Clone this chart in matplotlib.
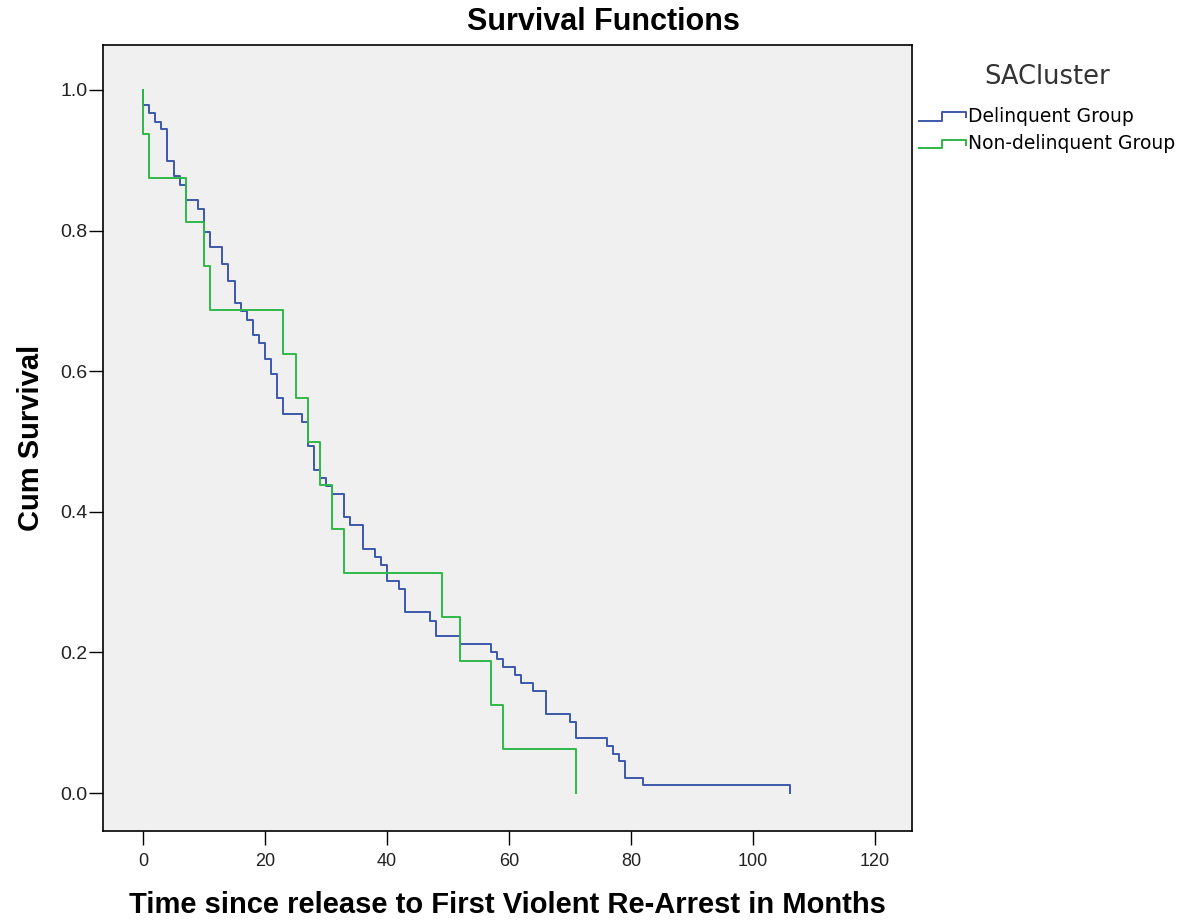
import matplotlib
matplotlib.use("Agg")
import matplotlib.pyplot as plt
from matplotlib.legend_handler import HandlerBase
from matplotlib.lines import Line2D

# Kaplan-Meier steps (time in months, cumulative survival)
delinquent_t = [0, 0, 1, 2, 3, 4, 5, 6, 7, 9, 10, 11, 13, 14, 15, 16, 17, 18, 19,
                20, 21, 22, 23, 26, 27, 28, 29, 30, 31, 33, 34, 36, 38, 39, 40,
                42, 43, 47, 48, 52, 57, 58, 59, 61, 62, 64, 66, 70, 71, 76, 77,
                78, 79, 82, 106]
delinquent_s = [1.0, 0.978, 0.967, 0.955, 0.944, 0.899, 0.877, 0.865, 0.843, 0.831,
                0.798, 0.776, 0.752, 0.729, 0.697, 0.685, 0.673, 0.652, 0.640,
                0.618, 0.596, 0.562, 0.539, 0.528, 0.494, 0.460, 0.448, 0.437,
                0.426, 0.392, 0.381, 0.347, 0.336, 0.324, 0.302, 0.290, 0.257,
                0.245, 0.224, 0.212, 0.201, 0.190, 0.179, 0.168, 0.156, 0.145,
                0.112, 0.101, 0.078, 0.067, 0.056, 0.045, 0.022, 0.011, 0.0]

nondelinquent_t = [0, 0, 1, 7, 10, 11, 23, 25, 27, 29, 31, 33, 49, 52, 57, 59, 71]
nondelinquent_s = [1.0, 0.9375, 0.875, 0.8125, 0.75, 0.6875, 0.625, 0.5625, 0.5,
                   0.4375, 0.375, 0.3125, 0.25, 0.1875, 0.125, 0.0625, 0.0]

group_labels = ["Delinquent Group", "Non-delinquent Group"]
group_colors = ["#3E58AC", "#2EB848"]

x_ticks = [0, 20, 40, 60, 80, 100, 120]
y_ticks = [0.0, 0.2, 0.4, 0.6, 0.8, 1.0]

ARIAL = ["Liberation Sans", "DejaVu Sans"]
WIDE = ["DejaVu Sans"]


class StepHandler(HandlerBase):
    """Legend key drawn as a small step, like SPSS does."""
    def create_artists(self, legend, orig_handle, xdescent, ydescent,
                       width, height, fontsize, trans):
        x0, x1 = -xdescent, -xdescent + width
        y_lo, y_hi = -ydescent + 0.1 * height, -ydescent + 0.75 * height
        xm = x0 + 0.5 * width
        line = Line2D([x0, xm, xm, x1, x1], [y_lo, y_lo, y_hi, y_hi, y_hi - 0.4 * height],
                      color=orig_handle.get_color(), lw=orig_handle.get_linewidth())
        line.set_transform(trans)
        return [line]


fig = plt.figure(figsize=(11.8, 9.24), dpi=100)
ax = fig.add_axes([0.0873, 0.1006, 0.6856, 0.8507])
ax.set_facecolor("#F0F0F0")

h1, = ax.step(delinquent_t, delinquent_s, where="post", color=group_colors[0], lw=1.4)
h2, = ax.step(nondelinquent_t, nondelinquent_s, where="post", color=group_colors[1], lw=1.4)

ax.set_xlim(-6.56, 126.07)
ax.set_ylim(-0.054, 1.064)
ax.set_xticks(x_ticks)
ax.set_yticks(y_ticks)
ax.set_yticklabels([f"{v:.1f}" for v in y_ticks], family=ARIAL, fontsize=14, color="#222222")
ax.set_xticklabels([str(v) for v in x_ticks], family=ARIAL, fontsize=13, color="#222222")
ax.tick_params(direction="out", length=10, width=1, color="black")
ax.tick_params(axis="y", pad=1)
ax.tick_params(axis="x", pad=6)
for sp in ax.spines.values():
    sp.set_linewidth(1.2)

ax.set_xlabel("Time since release to First Violent Re-Arrest in Months",
              family=ARIAL, fontweight="bold", fontsize=21, labelpad=15)
ax.set_ylabel("Cum Survival", family=ARIAL, fontweight="bold", fontsize=21, labelpad=11)
fig.text(0.511, 0.976, "Survival Functions", ha="center", va="center",
         family=ARIAL, fontweight="bold", fontsize=22)

leg = fig.legend([h1, h2], group_labels, handler_map={Line2D: StepHandler()},
                 loc="upper left", bbox_to_anchor=(0.7725, 0.9385), frameon=False,
                 title="SACluster", prop={"family": WIDE, "size": 13.5},
                 handlelength=2.5, handletextpad=0.1, labelspacing=0.45,
                 borderaxespad=0)
leg.get_title().set_fontsize(18.5)
leg.get_title().set_family(WIDE)
leg.get_title().set_color("#333333")
leg._legend_box.sep = 12

fig.savefig("out.png", dpi=100, facecolor="white")
